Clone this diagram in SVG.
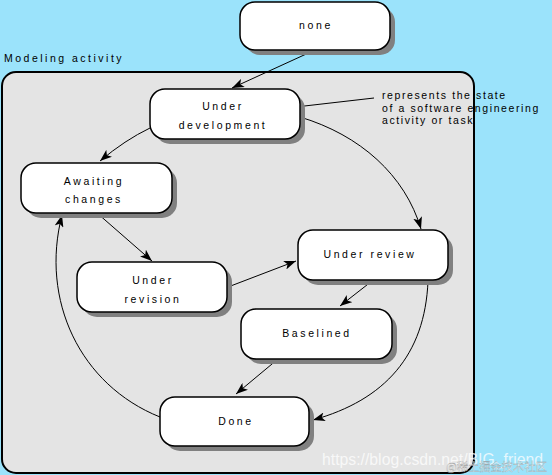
<svg xmlns="http://www.w3.org/2000/svg" width="552" height="475" viewBox="0 0 552 475">
<defs>
<marker id="arr" markerUnits="userSpaceOnUse" markerWidth="13" markerHeight="9" refX="12" refY="4.5" orient="auto">
<path d="M0,0 L12,4.5 L0,9 L3,4.5 z" fill="#000"/>
</marker>
<style>
.sh{fill:#808080}
.bx{fill:#fff;stroke:#000;stroke-width:1.5}
.t{font-family:"Liberation Sans",Arial,sans-serif;font-size:10.5px;letter-spacing:2.6px;fill:#000;text-anchor:middle}
.n{font-family:"Liberation Sans",Arial,sans-serif;font-size:10.5px;letter-spacing:1.6px;fill:#000}
.c{fill:none;stroke:#000;stroke-width:1}
</style>
</defs>
<rect x="0" y="0" width="552" height="475" fill="#9be3fb"/>
<text class="n" x="4" y="62" style="letter-spacing:2.5px">Modeling activity</text>
<rect x="2" y="72" width="472" height="401" rx="14" fill="#e4e4e4" stroke="#000" stroke-width="2"/>

<g id="connectors">
<path class="c" d="M315,50 L232,88" marker-end="url(#arr)"/>
<path class="c" d="M150,128 Q125,140 100,161" marker-end="url(#arr)"/>
<path class="c" d="M300,117 C360,135 405,175 421,229" marker-end="url(#arr)"/>
<path class="c" d="M97,213 L152,261" marker-end="url(#arr)"/>
<path class="c" d="M228,287 L296,261" marker-end="url(#arr)"/>
<path class="c" d="M372,281 L340,306" marker-end="url(#arr)"/>
<path class="c" d="M278,359 L236,394" marker-end="url(#arr)"/>
<path class="c" d="M428,281 C425,355 385,400 313,420" marker-end="url(#arr)"/>
<path class="c" d="M160,417 C80,385 40,300 62,215" marker-end="url(#arr)"/>
<path class="c" d="M287,108 L374,98"/>
</g>

<g id="none">
<rect class="sh" x="245" y="7" width="150" height="48" rx="15"/>
<rect class="bx" x="240" y="2" width="150" height="48" rx="15"/>
<text class="t" x="316" y="29">none</text>
</g>
<g id="under-development">
<rect class="sh" x="155" y="94" width="150" height="50" rx="15"/>
<rect class="bx" x="150" y="89" width="150" height="50" rx="15"/>
<text class="t" x="223" y="110">Under</text>
<text class="t" x="223" y="129">development</text>
</g>
<g id="awaiting-changes">
<rect class="sh" x="26" y="168" width="151" height="50" rx="15"/>
<rect class="bx" x="21" y="163" width="151" height="50" rx="15"/>
<text class="t" x="94" y="184.5">Awaiting</text>
<text class="t" x="94" y="203">changes</text>
</g>
<g id="under-revision">
<rect class="sh" x="82" y="267" width="150" height="50" rx="15"/>
<rect class="bx" x="77" y="262" width="150" height="50" rx="15"/>
<text class="t" x="153" y="284">Under</text>
<text class="t" x="153" y="303">revision</text>
</g>
<g id="under-review">
<rect class="sh" x="303" y="235" width="150" height="50" rx="15"/>
<rect class="bx" x="298" y="230" width="150" height="50" rx="15"/>
<text class="t" x="370" y="258">Under review</text>
</g>
<g id="baselined">
<rect class="sh" x="246" y="314" width="151" height="50" rx="15"/>
<rect class="bx" x="241" y="309" width="151" height="50" rx="15"/>
<text class="t" x="317" y="337">Baselined</text>
</g>
<g id="done">
<rect class="sh" x="165" y="402" width="149" height="49" rx="15"/>
<rect class="bx" x="160" y="397" width="149" height="49" rx="15"/>
<text class="t" x="236" y="425">Done</text>
</g>

<g id="note">
<text class="n" x="382" y="99">represents the state</text>
<text class="n" x="382" y="112">of a software engineering</text>
<text class="n" x="382" y="124">activity or task</text>
</g>

<g id="watermark" opacity="0.75">
<text x="322" y="465" font-family="Liberation Sans, Arial, sans-serif" font-size="16" fill="#fff" textLength="221" lengthAdjust="spacingAndGlyphs">https://blog.csdn.net/BIG_friend</text>
<text x="446" y="471" font-family="Noto Sans CJK SC, sans-serif" font-size="11.5" fill="#fff" stroke="#888" stroke-width="0.3" textLength="101" lengthAdjust="spacingAndGlyphs">@稀土掘金技术社区</text>
</g>
</svg>
